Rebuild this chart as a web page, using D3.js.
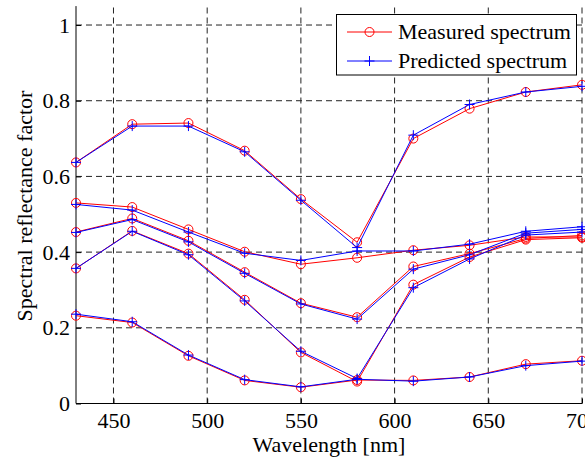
<!DOCTYPE html>
<html><head><meta charset="utf-8">
<script src="https://cdn.jsdelivr.net/npm/d3@7"></script>
<style>body{margin:0;background:#fff}svg{display:block}svg text{font-family:"Liberation Serif","DejaVu Serif",serif}</style>
</head><body>
<svg id="c" width="585" height="460"></svg>
<script>
const wavelengths = [430, 460, 490, 520, 550, 580, 610, 640, 670, 700];
const measuredA = [0.637, 0.738, 0.741, 0.668, 0.540, 0.426, 0.700, 0.779, 0.823, 0.842];
const predictedA = [0.637, 0.733, 0.733, 0.665, 0.537, 0.412, 0.709, 0.790, 0.823, 0.838];
const measuredB = [0.530, 0.519, 0.460, 0.401, 0.368, 0.385, 0.405, 0.418, 0.440, 0.440];
const predictedB = [0.526, 0.511, 0.453, 0.397, 0.378, 0.403, 0.403, 0.421, 0.455, 0.467];
const measuredC = [0.453, 0.489, 0.430, 0.347, 0.265, 0.228, 0.362, 0.396, 0.436, 0.444];
const predictedC = [0.452, 0.486, 0.427, 0.344, 0.263, 0.223, 0.355, 0.393, 0.450, 0.460];
const measuredD = [0.357, 0.456, 0.396, 0.274, 0.135, 0.058, 0.314, 0.387, 0.433, 0.438];
const predictedD = [0.357, 0.455, 0.393, 0.271, 0.138, 0.066, 0.306, 0.382, 0.445, 0.453];
const measuredE = [0.232, 0.214, 0.126, 0.061, 0.043, 0.062, 0.061, 0.070, 0.104, 0.113];
const predictedE = [0.236, 0.216, 0.128, 0.063, 0.044, 0.064, 0.059, 0.070, 0.100, 0.112];
const xTicks = [450, 500, 550, 600, 650, 700];
const yTicks = [0, 0.2, 0.4, 0.6, 0.8, 1];
const legendLabels = ["Measured spectrum", "Predicted spectrum"];
const xLabel = "Wavelength [nm]";
const yLabel = "Spectral reflectance factor";

const measured = [measuredA, measuredB, measuredC, measuredD, measuredE];
const predicted = [predictedA, predictedB, predictedC, predictedD, predictedE];

const svg = d3.select("#c");
const font = "Liberation Serif, DejaVu Serif, serif";
const L = 76, R = 582, T = 6.1, B = 403.5;
const x = d3.scaleLinear().domain([430, 700]).range([L, R]);
const y = d3.scaleLinear().domain([0, 1.05]).range([B, T]);

// grid
const g = svg.append("g");
g.selectAll(".vx").data(xTicks).enter().append("line")
  .attr("x1", d => x(d)).attr("x2", d => x(d)).attr("y1", B).attr("y2", T)
  .attr("stroke", "#222").attr("stroke-width", 1).attr("stroke-dasharray", "6,4");
g.selectAll(".hy").data(yTicks.filter(d => d > 0)).enter().append("line")
  .attr("x1", L).attr("x2", R).attr("y1", d => y(d)).attr("y2", d => y(d))
  .attr("stroke", "#222").attr("stroke-width", 1).attr("stroke-dasharray", "6,4");

// axes
const xAxis = d3.axisBottom(x).tickValues(xTicks).tickSizeInner(-5).tickSizeOuter(0).tickPadding(9).tickFormat(d3.format("d"));
const yAxis = d3.axisLeft(y).tickValues(yTicks).tickSizeInner(-5).tickSizeOuter(0).tickPadding(6).tickFormat(d => d === 0 ? "0" : (d === 1 ? "1" : d3.format(".1f")(d)));
const gx = svg.append("g").attr("transform", `translate(0,${B})`).call(xAxis);
const gy = svg.append("g").attr("transform", `translate(${L},0)`).call(yAxis);
[gx, gy].forEach(a => {
  a.attr("font-family", null).attr("font-size", null);
  a.select(".domain").attr("stroke", "#000").attr("stroke-width", 1);
  a.selectAll(".tick line").attr("stroke", "#000");
  a.selectAll("text").style("font-family", font).style("font-size", "22px").attr("fill", "#000");
});
gx.select(".domain").attr("d", `M${L},0H${R}`);
gy.select(".domain").attr("d", `M0,${B}V${T}`);

// lines & markers
const line = d3.line().x((d, i) => x(wavelengths[i])).y(d => y(d));
function drawSeries(vals, color, marker) {
  svg.append("path").attr("d", line(vals)).attr("fill", "none").attr("stroke", color).attr("stroke-width", 1);
  const mg = svg.append("g");
  vals.forEach((v, i) => {
    const cx = x(wavelengths[i]), cy = y(v);
    if (marker === "o") {
      mg.append("circle").attr("cx", cx).attr("cy", cy).attr("r", 4.5).attr("fill", "none").attr("stroke", color).attr("stroke-width", 1);
    } else {
      mg.append("path").attr("d", `M${cx-5},${cy}H${cx+5}M${cx},${cy-5}V${cy+5}`).attr("stroke", color).attr("stroke-width", 1);
    }
  });
}
measured.forEach((m, k) => {
  drawSeries(m, "#ff0000", "o");
  drawSeries(predicted[k], "#0000ff", "+");
});

// labels
svg.append("text").attr("x", 329).attr("y", 452).attr("text-anchor", "middle")
  .style("font-family", font).style("font-size", "22px").text(xLabel);
svg.append("text").attr("transform", "translate(32,206) rotate(-90)").attr("text-anchor", "middle")
  .style("font-family", font).style("font-size", "22px").text(yLabel);

// legend
const lg = svg.append("g");
lg.append("rect").attr("x", 336.5).attr("y", 14.5).attr("width", 240).attr("height", 60.5)
  .attr("fill", "#fff").attr("stroke", "#000").attr("stroke-width", 1);
const legColors = ["#ff0000", "#0000ff"];
const legMarkers = ["o", "+"];
legendLabels.forEach((t, i) => {
  const ly = 32 + i * 29;
  lg.append("line").attr("x1", 347).attr("x2", 392).attr("y1", ly).attr("y2", ly).attr("stroke", legColors[i]).attr("stroke-width", 1);
  if (legMarkers[i] === "o") lg.append("circle").attr("cx", 369.5).attr("cy", ly).attr("r", 4.5).attr("fill", "none").attr("stroke", legColors[i]);
  else lg.append("path").attr("d", `M364.5,${ly}H374.5M369.5,${ly-5}V${ly+5}`).attr("stroke", legColors[i]);
  lg.append("text").attr("x", 398).attr("y", ly + 7).style("font-family", font).style("font-size", "22px").text(t);
});
</script>
</body></html>
